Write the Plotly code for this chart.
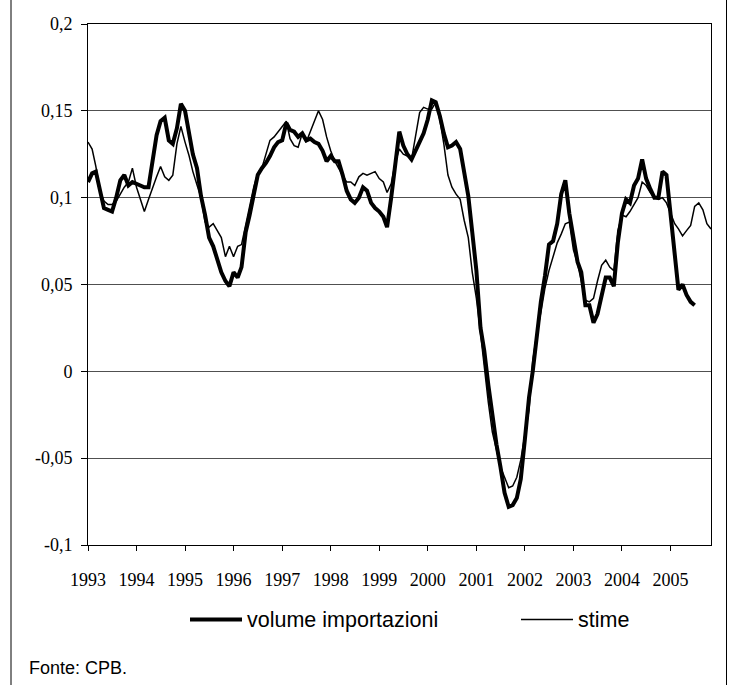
import plotly.graph_objects as go
import pandas as pd

# ---- data (monthly, Jan 1993 onwards) ----
months = pd.date_range("1993-01-01", periods=155, freq="MS")

volume_importazioni = [
    0.109, 0.114, 0.115, 0.104, 0.094, 0.093, 0.092, 0.100, 0.110, 0.113, 0.107, 0.109,
    0.108, 0.1065, 0.106, 0.106, 0.120, 0.136, 0.144, 0.146, 0.133, 0.131, 0.140, 0.154,
    0.150, 0.137, 0.125, 0.117, 0.101, 0.090, 0.077, 0.072, 0.065, 0.057, 0.052, 0.049,
    0.057, 0.054, 0.060, 0.080, 0.090, 0.101, 0.113, 0.117, 0.120, 0.124, 0.129, 0.132,
    0.133, 0.143, 0.139, 0.138, 0.135, 0.137, 0.133, 0.134, 0.132, 0.131, 0.127, 0.121,
    0.124, 0.121, 0.121, 0.113, 0.104, 0.099, 0.097, 0.100, 0.106, 0.104, 0.097, 0.094,
    0.092, 0.089, 0.083, 0.100, 0.117, 0.138, 0.130, 0.125, 0.122, 0.127, 0.131, 0.137,
    0.145, 0.156, 0.155, 0.147, 0.137, 0.129, 0.130, 0.132, 0.128, 0.116, 0.101, 0.080,
    0.058, 0.025, 0.012, -0.008, -0.027, -0.042, -0.055, -0.070, -0.078, -0.077, -0.073, -0.062,
    -0.039, -0.015, 0.000, 0.020, 0.040, 0.055, 0.073, 0.075, 0.085, 0.102, 0.110, 0.091,
    0.076, 0.063, 0.057, 0.038, 0.038, 0.028, 0.033, 0.044, 0.054, 0.054, 0.049, 0.074,
    0.091, 0.099, 0.097, 0.107, 0.111, 0.122, 0.111, 0.105, 0.100, 0.100, 0.115, 0.113,
    0.092, 0.070, 0.047, 0.050, 0.044, 0.040, 0.038,
]

stime = [
    0.132, 0.128, 0.118, 0.104, 0.098, 0.096, 0.096, 0.098, 0.102, 0.106, 0.109, 0.117,
    0.106, 0.099, 0.092, 0.099, 0.106, 0.112, 0.118, 0.112, 0.110, 0.113, 0.131, 0.141,
    0.132, 0.124, 0.115, 0.108, 0.100, 0.086, 0.083, 0.085, 0.081, 0.077, 0.066, 0.072,
    0.066, 0.072, 0.073, 0.085, 0.095, 0.106, 0.114, 0.117, 0.125, 0.133, 0.135, 0.138,
    0.141, 0.144, 0.134, 0.130, 0.129, 0.137, 0.132, 0.138, 0.145, 0.150, 0.145, 0.135,
    0.127, 0.121, 0.117, 0.113, 0.109, 0.109, 0.107, 0.112, 0.114, 0.113, 0.114, 0.115,
    0.111, 0.109, 0.103, 0.108, 0.120, 0.128, 0.125, 0.124, 0.122, 0.136, 0.149, 0.152,
    0.151, 0.151, 0.155, 0.145, 0.131, 0.113, 0.106, 0.102, 0.099, 0.087, 0.077, 0.057,
    0.042, 0.022, 0.002, -0.018, -0.035, -0.046, -0.055, -0.061, -0.067, -0.066, -0.061, -0.051,
    -0.037, -0.022, 0.006, 0.022, 0.034, 0.048, 0.058, 0.066, 0.074, 0.079, 0.085, 0.086,
    0.070, 0.062, 0.051, 0.041, 0.040, 0.042, 0.052, 0.061, 0.064, 0.060, 0.058, 0.081,
    0.090, 0.089, 0.092, 0.096, 0.100, 0.109, 0.107, 0.103, 0.100, 0.099, 0.100, 0.097,
    0.091, 0.085, 0.082, 0.078, 0.081, 0.084, 0.095, 0.097, 0.093, 0.085, 0.082,
]

year_labels = [str(y) for y in range(1993, 2006)]
year_ticks = [f"{y}-01-01" for y in range(1993, 2006)]
y_ticks = [-0.1, -0.05, 0, 0.05, 0.1, 0.15, 0.2]
y_labels = ["-0,1", "-0,05", "0", "0,05", "0,1", "0,15", "0,2"]

# page body margin is removed (see post_script), so figure == window
W, H = 729, 687
L, T = 88, 24
PR, PB = 711, 545
R, B = W - PR, H - PB
PW, PH = PR - L, PB - T


def px(x):  # window pixel -> paper x
    return (x - L) / PW


def py(y):  # window pixel -> paper y
    return (PB - y) / PH


fig = go.Figure()
fig.add_trace(go.Scatter(x=months[:len(volume_importazioni)], y=volume_importazioni,
                         mode="lines", name="volume importazioni",
                         line=dict(color="black", width=4)))
fig.add_trace(go.Scatter(x=months[:len(stime)], y=stime, mode="lines", name="stime",
                         line=dict(color="black", width=1.5)))

serif = "Liberation Serif, Times New Roman, serif"
sans = "Liberation Sans, Arial, sans-serif"

fig.update_layout(
    width=W, height=H,
    margin=dict(l=L, r=R, t=T, b=B),
    paper_bgcolor="white", plot_bgcolor="white",
    showlegend=False,
    xaxis=dict(
        range=[months[0], months[len(stime) - 1]],
        tickvals=year_ticks, ticktext=year_labels,
        showgrid=False, showline=True, mirror=True, linecolor="black", linewidth=1,
        ticks="outside", ticklen=5, tickcolor="black",
        tickfont=dict(family=serif, size=18, color="black"),
        ticklabelstandoff=13,
    ),
    yaxis=dict(
        range=[-0.1, 0.2], tickvals=y_ticks, ticktext=y_labels,
        showgrid=True, gridcolor="#505050", gridwidth=1, zeroline=False,
        showline=True, mirror=True, linecolor="black", linewidth=1,
        ticks="outside", ticklen=6, tickcolor="black",
        tickfont=dict(family=serif, size=18, color="black"),
        ticklabelstandoff=5,
    ),
)

shapes = [
    # outer frame (left and right)
    dict(type="line", xref="paper", yref="paper", x0=px(11), x1=px(11), y0=py(0), y1=py(685),
         line=dict(color="black", width=1)),
    dict(type="line", xref="paper", yref="paper", x0=px(726.5), x1=px(726.5), y0=py(0), y1=py(685),
         line=dict(color="black", width=1)),
    # legend samples
    dict(type="line", xref="paper", yref="paper", x0=px(190), x1=px(242), y0=py(619.5), y1=py(619.5),
         line=dict(color="black", width=4)),
    dict(type="line", xref="paper", yref="paper", x0=px(521), x1=px(573), y0=py(619.5), y1=py(619.5),
         line=dict(color="black", width=1.5)),
]
annotations = [
    dict(text="volume importazioni", xref="paper", yref="paper", x=px(245), y=py(619.5),
         xanchor="left", yanchor="middle", showarrow=False,
         font=dict(family=sans, size=21.5, color="black")),
    dict(text="stime", xref="paper", yref="paper", x=px(576), y=py(619.5),
         xanchor="left", yanchor="middle", showarrow=False,
         font=dict(family=sans, size=21.5, color="black")),
    dict(text="Fonte: CPB.", xref="paper", yref="paper", x=px(27), y=py(668),
         xanchor="left", yanchor="middle", showarrow=False,
         font=dict(family=sans, size=18, color="black")),
]
fig.update_layout(shapes=shapes, annotations=annotations)

fig.write_html(
    "out.html",
    config={"displayModeBar": False},
    post_script="document.body.style.margin='0';document.body.style.overflow='hidden';",
)
